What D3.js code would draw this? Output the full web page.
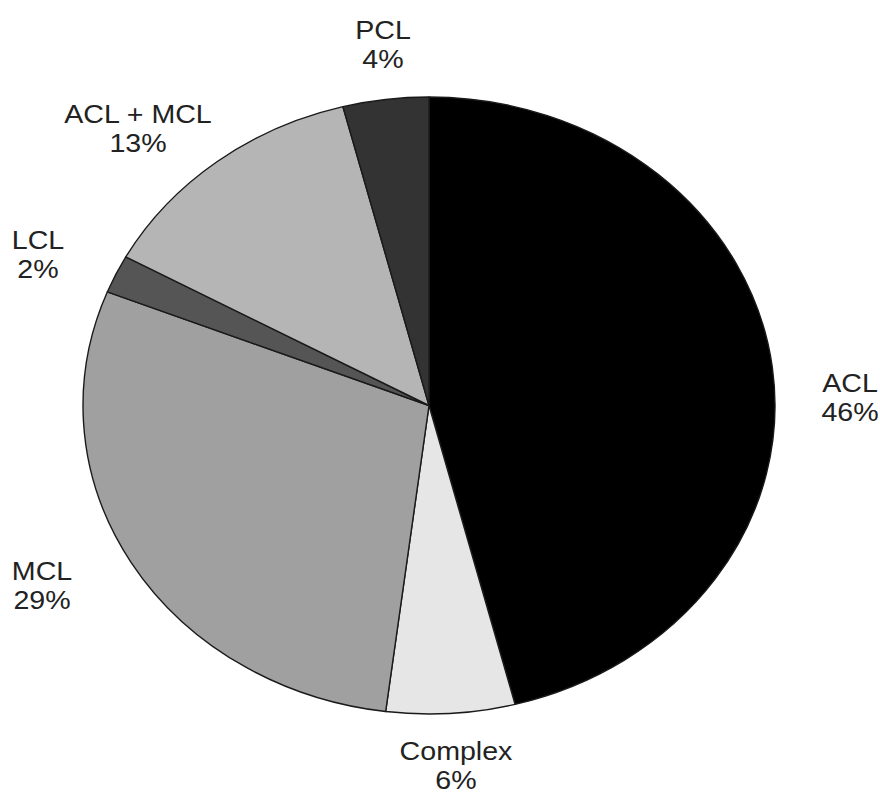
<!DOCTYPE html>
<html lang="en">
<head>
    <meta charset="UTF-8">
    <title>Ligament Injuries Pie</title>
    <script src="https://d3js.org/d3.v7.min.js"></script>
    <style>
        body { margin: 0; background: #fff; }
        .label {
            font-family: "Liberation Sans", Arial, sans-serif;
            font-size: 26px;
            fill: #222;
            text-anchor: middle;
        }
    </style>
</head>
<body>
    <div id="chart"></div>
    <script>

        // slices go clockwise from 12 o'clock
        const categories = ["ACL", "Complex", "MCL", "LCL", "ACL + MCL", "PCL"];
        const values = [46, 6, 29, 2, 13, 4];
        const shades = ["#000000", "#e6e6e6", "#a0a0a0", "#555555", "#b5b5b5", "#333333"];

        // where each two-line label sits (centre x, first baseline y)
        const labelPos = [[850, 392], [456, 760], [42, 580], [38, 249], [138, 123], [383, 39]];

        const width = 880;
        const height = 795;
        const cx = 429;
        const cy = 405.5;
        const rx = 346;
        const ry = 308.5;

        const svg = d3.select("#chart")
            .append("svg")
            .attr("width", width)
            .attr("height", height);

        const color = d3.scaleOrdinal()
            .domain(categories)
            .range(shades);

        const pie = d3.pie().sort(null).value(d => d.value);
        const arc = d3.arc().innerRadius(0).outerRadius(rx);

        const data = categories.map((c, i) => ({ name: c, value: values[i] }));

        // the original pie is a bit squashed vertically
        const g = svg.append("g")
            .attr("transform", `translate(${cx},${cy}) scale(1,${ry / rx})`);

        g.selectAll("path")
            .data(pie(data))
            .join("path")
            .attr("d", arc)
            .attr("fill", d => color(d.data.name))
            .attr("stroke", "#1a1a1a")
            .attr("stroke-width", 1.4)
            .attr("stroke-linejoin", "round")
            .attr("vector-effect", "non-scaling-stroke");

        data.forEach((d, i) => {
            const [x, y] = labelPos[i];
            const t = svg.append("text")
                .attr("class", "label")
                .attr("transform", `translate(${x},${y}) scale(1.1,1)`);
            t.append("tspan").attr("x", 0).attr("y", 0).text(d.name);
            t.append("tspan").attr("x", 0).attr("y", 29).text(`${d.value}%`);
        });

    </script>
</body>
</html>
